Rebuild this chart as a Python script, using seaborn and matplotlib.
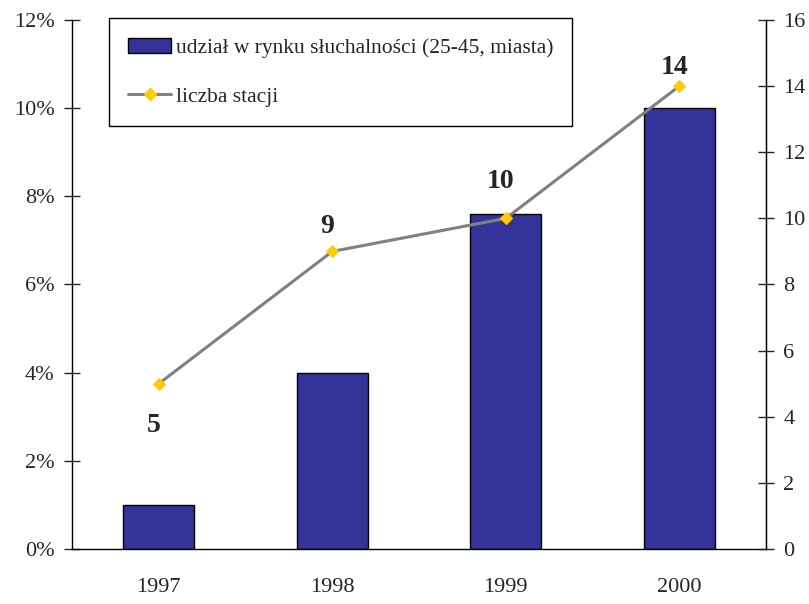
import numpy as np
import pandas as pd
import seaborn as sns
import matplotlib.pyplot as plt
from matplotlib.patches import Patch
from matplotlib.lines import Line2D
from matplotlib.ticker import FuncFormatter, FixedLocator

years = ["1997", "1998", "1999", "2000"]
share = [1.0, 4.0, 7.6, 10.0]      # udział w rynku, %
stations = [5, 9, 10, 14]          # liczba stacji
label_y = [3.75, 9.75, 11.1, 14.55]

sns.set_style("white")
plt.rcParams["font.family"] = ["Liberation Serif", "DejaVu Serif"]

df = pd.DataFrame({"rok": years, "udzial": share, "stacje": stations})
pos = np.arange(len(years))

fig = plt.figure(figsize=(8.09, 6.04), dpi=100)
ax = fig.add_axes([0.089, 0.091, 0.858, 0.876])

sns.barplot(data=df, x="rok", y="udzial", color="#333399", saturation=1,
            edgecolor="black", linewidth=1, width=0.41, ax=ax)
ax.set_ylim(0, 12)
ax.set_xlim(-0.5, 3.5)
ax.set_yticks(range(0, 13, 2))
ax.yaxis.set_major_formatter(FuncFormatter(lambda v, p: f"{v:.0f}%"))
ax.xaxis.set_major_locator(FixedLocator(np.arange(-0.5, 4, 1)))
ax.xaxis.set_minor_locator(FixedLocator(pos))
ax.set_xticklabels([""] * 5)
ax.set_xticklabels(years, minor=True)
ax.tick_params(axis="x", which="major", direction="inout", length=12.5, width=1)
ax.tick_params(axis="x", which="minor", length=0, pad=21, labelsize=16)
ax.tick_params(axis="y", direction="inout", length=11, width=1, labelsize=16, left=True, pad=7)
ax.set_xlabel("")
ax.set_ylabel("")
ax.spines["top"].set_visible(False)
for s in ["left", "bottom", "right"]:
    ax.spines[s].set_color("black")
    ax.spines[s].set_linewidth(1)

ax2 = ax.twinx()
sns.lineplot(x=pos, y=stations, ax=ax2, color="#808080", linewidth=2.2,
             marker="D", markersize=6, markerfacecolor="#FFCC00",
             markeredgecolor="#FFCC00")
ax2.set_ylim(0, 16)
ax2.set_yticks(range(0, 17, 2))
ax2.tick_params(axis="y", direction="inout", length=11, width=1, labelsize=16, right=True, pad=7)
ax2.spines["top"].set_visible(False)
ax2.spines["right"].set_color("black")
ax2.spines["left"].set_visible(False)
ax2.spines["bottom"].set_visible(False)

for x, y, v in zip(pos, label_y, stations):
    ax2.text(x - 0.03, y, str(v), ha="center", va="center",
             fontsize=20, fontweight="bold")

handles = [Patch(facecolor="#333399", edgecolor="black"),
           Line2D([0], [0], color="#808080", linewidth=2.2, marker="D",
                  markersize=6, markerfacecolor="#FFCC00", markeredgecolor="#FFCC00")]
leg = ax2.legend(handles, ["udział w rynku słuchalności (25-45, miasta)", "liczba stacji"],
                 loc="upper left", bbox_to_anchor=(0.053, 1.003), fontsize=15.5,
                 fancybox=False, framealpha=1, edgecolor="black",
                 handlelength=2.0, handleheight=0.7, handletextpad=0.2,
                 labelspacing=1.35, borderpad=0.9, borderaxespad=0)
leg.get_frame().set_linewidth(1)

fig.savefig("out.png", dpi=100)
